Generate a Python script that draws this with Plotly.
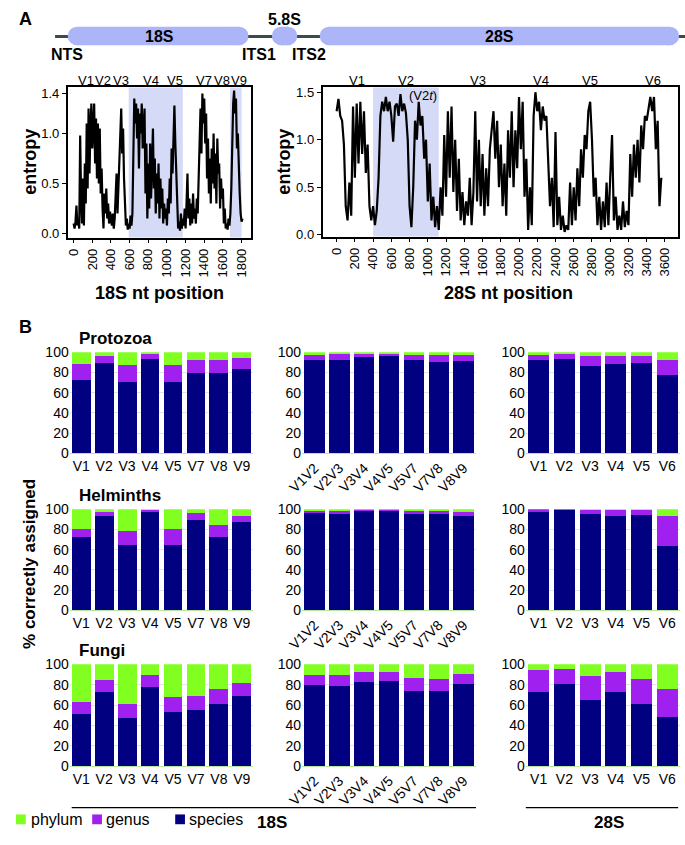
import plotly.graph_objects as go

W, H = 685, 845

# ---------------- DATA ----------------
# Entropy along 18S (every 10 nt, 0..1810)
pos_18s = list(range(0, 1820, 10))
entropy_18s = [
    0.10, 0.05, 0.12, 0.28, 0.08, 0.15, 0.05, 0.98, 0.35, 0.10,
    0.55, 0.08, 0.70, 0.30, 1.10, 0.45, 1.25, 0.60, 1.05, 1.30,
    0.85, 1.20, 1.30, 0.70, 1.15, 0.55, 1.10, 0.50, 1.05, 0.40,
    0.65, 0.25, 0.05, 0.40, 0.20, 0.45, 0.15, 0.30, 0.10, 0.22,
    0.12, 0.08, 0.20, 0.05, 0.15, 0.40, 0.60, 0.20, 0.45, 0.85,
    1.10, 1.25, 0.80, 1.05, 0.55, 0.35, 0.08, 0.15, 0.04, 0.10,
    0.05, 0.18, 0.08, 0.20, 0.90, 1.35, 1.10, 1.30, 0.95, 1.25,
    0.65, 1.20, 1.00, 1.30, 0.85, 1.15, 1.25, 0.40, 0.90, 0.15,
    0.70, 0.25, 0.90, 0.35, 0.80, 1.05, 0.45, 0.75, 0.20, 0.60,
    0.30, 0.70, 0.15, 0.55, 0.25, 0.45, 0.10, 0.30, 0.15, 0.25,
    0.08, 0.35, 0.20, 0.55, 0.30, 0.85, 0.60, 1.10, 1.28, 0.90,
    0.60, 0.30, 0.05, 0.12, 0.03, 0.20, 0.05, 0.15, 0.08, 0.25,
    0.05, 0.30, 0.60, 0.15, 0.35, 0.08, 0.30, 0.10, 0.40, 0.15,
    0.25, 0.10, 0.35, 0.20, 0.65, 0.95, 1.25, 0.80, 1.40, 1.10,
    1.35, 0.90, 1.20, 0.55, 0.95, 0.40, 0.75, 0.30, 0.85, 0.50,
    1.00, 0.45, 0.80, 0.30, 0.95, 0.60, 0.70, 0.25, 0.55, 0.35,
    0.45, 0.10, 0.25, 0.05, 0.10, 0.04, 0.15, 0.08, 0.20, 0.45,
    0.90, 1.30, 1.43, 1.20, 1.35, 0.85, 1.00, 0.55, 0.40, 0.20,
    0.12, 0.15,
]

# Entropy along 28S (every 20 nt, 0..3560)
pos_28s = list(range(0, 3580, 20))
entropy_28s = [
    1.30, 1.43, 1.25, 1.20, 0.95, 0.30, 0.15, 0.55, 0.20, 1.35,
    0.60, 1.38, 0.75, 1.40, 0.85, 1.30, 0.65, 0.95, 0.30, 0.15,
    0.30, 0.10, 0.25, 0.60, 1.25, 1.40, 1.30, 1.45, 1.30, 1.40,
    1.25, 0.98, 1.35, 1.38, 1.25, 1.48, 1.30, 1.38, 1.28, 1.00,
    0.30, 0.08, 0.50, 1.20, 1.00, 1.40, 1.15, 1.25, 0.80, 1.00,
    0.35, 0.75, 0.15, 0.40, 0.08, 0.30, 0.05, 0.50, 0.20, 1.05,
    0.40, 1.30, 0.60, 1.35, 0.45, 1.00, 0.25, 0.80, 0.15, 0.45,
    0.10, 0.35, 0.20, 0.60, 0.10, 0.45, 1.30, 0.35, 1.00, 0.30,
    0.85, 0.20, 0.70, 0.30, 0.90, 1.10, 1.30, 0.80, 1.20, 0.50,
    0.95, 0.30, 0.75, 0.20, 1.10, 0.60, 1.30, 0.50, 1.10, 0.70,
    1.45, 0.90, 1.40, 0.40, 0.80, 0.05, 0.50, 0.10, 1.25, 1.50,
    1.30, 1.40, 1.10, 1.35, 1.20, 1.25, 0.80, 0.30, 0.60, 0.08,
    1.08, 0.10, 0.40, 0.05, 0.20, 0.03, 0.10, 0.05, 0.55, 0.10,
    0.50, 0.15, 0.70, 0.30, 0.90, 0.60, 1.05, 0.90, 1.30, 1.40,
    1.00, 0.40, 0.60, 0.10, 0.40, 0.05, 0.35, 0.08, 0.55, 0.10,
    0.60, 1.05, 0.15, 0.40, 0.05, 0.20, 0.05, 0.35, 0.08, 0.25,
    0.10, 0.85, 0.40, 0.95, 0.60, 1.00, 0.55, 1.15, 0.90, 1.25,
    1.20, 1.35, 1.45, 1.30, 1.45, 0.90, 1.20, 0.30, 0.60,
]

shade_18s = [(590, 1170), (1675, 1800)]
shade_28s = [(400, 1120)]

vlabels_18s = ["V1", "V2", "V3", "V4", "V5", "V7", "V8", "V9"]
vlabel_x_18s = [72, 89, 107, 138, 163, 193, 211, 228]          # pixel centres
vlabels_28s = ["V1", "V2", "V3", "V4", "V5", "V6"]
vlabel_x_28s = [349, 399, 473, 538, 588, 652]

cats_single = ["V1", "V2", "V3", "V4", "V5", "V7", "V8", "V9"]
cats_pairs = ["V1V2", "V2V3", "V3V4", "V4V5", "V5V7", "V7V8", "V8V9"]
cats_28s = ["V1", "V2", "V3", "V4", "V5", "V6"]

# % correctly assigned, as stacked increments (species, +genus, +phylum)
protozoa_single_species = [73, 89, 70.5, 93, 71, 80, 79.5, 84]
protozoa_single_genus = [15, 7.5, 17, 5.4, 16, 12.5, 13, 10.5]
protozoa_single_phylum = [12, 3.5, 12.5, 1.6, 13, 7.5, 7.5, 5.5]
protozoa_pairs_species = [92, 92, 95, 96, 92, 90.5, 91]
protozoa_pairs_genus = [5, 6, 4, 3, 5, 6.5, 6.8]
protozoa_pairs_phylum = [3, 2, 1, 1, 3, 3, 2.2]
protozoa_28s_species = [92, 93.5, 86.5, 88, 89, 78]
protozoa_28s_genus = [5.8, 5.2, 9.7, 8.2, 7.2, 14.3]
protozoa_28s_phylum = [2.2, 1.3, 3.8, 3.8, 3.8, 7.7]

helminths_single_species = [72.5, 93, 65, 97, 65, 89, 72.3, 87]
helminths_single_genus = [8.5, 4.4, 13.4, 2.4, 15.6, 7.5, 11.9, 6.2]
helminths_single_phylum = [19, 2.6, 21.6, 0.6, 19.4, 3.5, 15.8, 6.8]
helminths_pairs_species = [96.5, 95.5, 98.7, 98.7, 95.5, 95.5, 93.2]
helminths_pairs_genus = [2.5, 3.5, 1.0, 1.0, 3.5, 3.5, 4.5]
helminths_pairs_phylum = [1, 1, 0.3, 0.3, 1, 1, 2.3]
helminths_28s_species = [97.7, 99.5, 95.2, 93.2, 94.5, 64.2]
helminths_28s_genus = [2.3, 0.5, 4.2, 6.2, 4.9, 29]
helminths_28s_phylum = [0, 0, 0.6, 0.6, 0.6, 6.8]

fungi_single_species = [51, 72.6, 47.4, 78, 53, 55.5, 61, 69.4]
fungi_single_genus = [12, 12.2, 13.6, 11.4, 15.4, 13.9, 14.8, 12.2]
fungi_single_phylum = [37, 15.2, 39, 10.6, 31.6, 30.6, 24.2, 18.4]
fungi_pairs_species = [79.7, 78.8, 83, 83.6, 74, 73.6, 80.4]
fungi_pairs_genus = [10.3, 10.6, 9, 9, 12.8, 12.2, 10.6]
fungi_pairs_phylum = [10, 10.6, 8, 7.4, 13.2, 14.2, 9]
fungi_28s_species = [73, 80.4, 65, 72.7, 61.4, 48.6]
fungi_28s_genus = [21.9, 15.1, 23.4, 19.6, 24.1, 27.3]
fungi_28s_phylum = [5.1, 4.5, 11.6, 7.7, 14.5, 24.1]

# ---------------- STYLE ----------------
FONT = "Liberation Sans"
C_SPECIES = "#000080"
C_GENUS = "#a020f0"
C_PHYLUM = "#80ff20"
C_SHADE = "#d5daf6"
C_PILL = "#abb5f7"
C_LINE = "#3b4a4a"


def fx(p):
    return p / W


def fy(p):
    return 1 - p / H


fig = go.Figure()

# ---------- entropy line plots ----------
fig.add_trace(go.Scatter(x=pos_18s, y=entropy_18s, mode="lines",
                         line=dict(color="black", width=2.2),
                         xaxis="x", yaxis="y", showlegend=False))
fig.add_trace(go.Scatter(x=pos_28s, y=entropy_28s, mode="lines",
                         line=dict(color="black", width=2.2),
                         xaxis="x2", yaxis="y2", showlegend=False))

layout = dict(
    width=W, height=H, autosize=False,
    margin=dict(l=0, r=0, t=0, b=0, pad=0),
    paper_bgcolor="white", plot_bgcolor="white",
    font=dict(family=FONT, color="black", size=13),
    barmode="stack", bargap=0.18,
    showlegend=False,
)

ent_axis_common = dict(showline=True, linecolor="black", linewidth=1.8, mirror=True,
                       ticks="outside", ticklen=4, tickwidth=1, tickcolor="black",
                       showgrid=False, zeroline=False, tickfont=dict(size=13))

layout["xaxis"] = dict(domain=[fx(53), fx(241)], range=[-63, 1905],
                       tickvals=list(range(0, 2000, 200)), tickangle=-90,
                       anchor="y", **ent_axis_common)
layout["yaxis"] = dict(domain=[fy(234), fy(81)], range=[-0.04, 1.46],
                       tickvals=[0, 0.5, 1.0, 1.4], ticktext=["0.0", "0.5", "1.0", "1.4"],
                       anchor="x", **ent_axis_common)
layout["xaxis2"] = dict(domain=[fx(314), fx(678)], range=[-153, 3745],
                        tickvals=list(range(0, 3800, 200)), tickangle=-90,
                        anchor="y2", **ent_axis_common)
layout["yaxis2"] = dict(domain=[fy(233), fy(81)], range=[-0.02, 1.55],
                        tickvals=[0, 0.5, 1.0, 1.5], ticktext=["0.0", "0.5", "1.0", "1.5"],
                        anchor="x2", **ent_axis_common)

shapes = []
for a, b in shade_18s:
    shapes.append(dict(type="rect", xref="x", yref="y domain", x0=a, x1=b, y0=0, y1=1,
                       fillcolor=C_SHADE, line=dict(width=0), layer="below"))
for a, b in shade_28s:
    shapes.append(dict(type="rect", xref="x2", yref="y2 domain", x0=a, x1=b, y0=0, y1=1,
                       fillcolor=C_SHADE, line=dict(width=0), layer="below"))

# ---------- bar charts ----------
groups = [
    ("Protozoa", [
        (cats_single, protozoa_single_species, protozoa_single_genus, protozoa_single_phylum),
        (cats_pairs, protozoa_pairs_species, protozoa_pairs_genus, protozoa_pairs_phylum),
        (cats_28s, protozoa_28s_species, protozoa_28s_genus, protozoa_28s_phylum)]),
    ("Helminths", [
        (cats_single, helminths_single_species, helminths_single_genus, helminths_single_phylum),
        (cats_pairs, helminths_pairs_species, helminths_pairs_genus, helminths_pairs_phylum),
        (cats_28s, helminths_28s_species, helminths_28s_genus, helminths_28s_phylum)]),
    ("Fungi", [
        (cats_single, fungi_single_species, fungi_single_genus, fungi_single_phylum),
        (cats_pairs, fungi_pairs_species, fungi_pairs_genus, fungi_pairs_phylum),
        (cats_28s, fungi_28s_species, fungi_28s_genus, fungi_28s_phylum)]),
]
row_y = [(351, 454), (511, 614), (669, 773)]       # pixel top(100) / bottom(0)
col_x = [(55, 243), (293, 471), (522, 680)]
col_angle = [0, -45, 0]
title_y = [337, 497, 655]

annotations = []
ax_i = 3
for r, (gname, panels) in enumerate(groups):
    top, bot = row_y[r]
    for c, (cats, sp, ge, ph) in enumerate(panels):
        xa, ya = f"x{ax_i}", f"y{ax_i}"
        for vals, col in ((sp, C_SPECIES), (ge, C_GENUS), (ph, C_PHYLUM)):
            fig.add_trace(go.Bar(x=cats, y=vals, marker=dict(color=col, line=dict(width=0)),
                                 xaxis=xa, yaxis=ya, showlegend=False))
        layout[f"xaxis{ax_i}"] = dict(domain=[fx(col_x[c][0]), fx(col_x[c][1])],
                                      anchor=ya, type="category", tickangle=col_angle[c],
                                      showline=True, linecolor="#b9e8a0", linewidth=1,
                                      ticks="", showgrid=False, tickfont=dict(size=14))
        layout[f"yaxis{ax_i}"] = dict(domain=[fy(bot), fy(top)], anchor=xa,
                                      range=[0, 100], tickvals=[0, 20, 40, 60, 80, 100],
                                      showgrid=True, gridcolor="#dfe3ea", gridwidth=1,
                                      zeroline=False, showline=False, ticks="",
                                      tickfont=dict(size=14))
        ax_i += 1
    annotations.append(dict(text=f"<b>{gname}</b>", x=fx(62), y=fy(title_y[r]),
                            xref="paper", yref="paper", xanchor="left", yanchor="middle",
                            showarrow=False, font=dict(size=17)))


def note(text, x, y, size=13, xanchor="center", angle=0, bold=False):
    t = f"<b>{text}</b>" if bold else text
    annotations.append(dict(text=t, x=fx(x), y=fy(y), xref="paper", yref="paper",
                            xanchor=xanchor, yanchor="middle", showarrow=False,
                            textangle=angle, font=dict(size=size)))


# panel letters
note("A", 1, 11, size=18, xanchor="left", bold=True)
note("B", 1, 325, size=18, xanchor="left", bold=True)

# schematic
shapes.append(dict(type="line", xref="paper", yref="paper", x0=fx(40), x1=fx(685),
                   y0=fy(29), y1=fy(29), line=dict(color=C_LINE, width=3), layer="above"))
pills = [("18S", 53, 238), ("5.8S", 262, 288), ("28S", 311, 679)]
py0, py1 = 19, 38
rad = (py1 - py0) / 2
for name, a, b in pills:
    shapes.append(dict(type="rect", xref="paper", yref="paper", x0=fx(a + rad), x1=fx(b - rad),
                       y0=fy(py1), y1=fy(py0), fillcolor=C_PILL, line=dict(width=0), layer="above"))
    for cx in (a + rad, b - rad):
        shapes.append(dict(type="circle", xref="paper", yref="paper", x0=fx(cx - rad), x1=fx(cx + rad),
                           y0=fy(py1), y1=fy(py0), fillcolor=C_PILL, line=dict(width=0), layer="above"))
note("18S", 147, 29, size=16, bold=True)
note("28S", 495, 29, size=16, bold=True)
note("5.8S", 275, 12, size=16, bold=True)
note("NTS", 52, 47, size=16, bold=True)
note("ITS1", 249, 47, size=16, bold=True)
note("ITS2", 300, 47, size=16, bold=True)

# entropy labels
for lab, x in zip(vlabels_18s, vlabel_x_18s):
    note(lab, x, 74, size=13)
for lab, x in zip(vlabels_28s, vlabel_x_28s):
    note(lab, x, 74, size=13)
note("(V2<i>t</i>)", 417, 89, size=13)
note("entropy", 14, 157, size=18, angle=-90, bold=True)
note("entropy", 274, 157, size=18, angle=-90, bold=True)
note("18S nt position", 147, 290, size=18, bold=True)
note("28S nt position", 504, 290, size=18, bold=True)

# bar chart labels
note("% correctly assigned", 14, 567, size=17, angle=-90, bold=True)
shapes.append(dict(type="line", xref="paper", yref="paper", x0=fx(57), x1=fx(471),
                   y0=fy(815), y1=fy(815), line=dict(color="black", width=1.2)))
shapes.append(dict(type="line", xref="paper", yref="paper", x0=fx(522), x1=fx(678),
                   y0=fy(815), y1=fy(815), line=dict(color="black", width=1.2)))
note("18S", 262, 830, size=17, bold=True)
note("28S", 607, 830, size=17, bold=True)

# legend (swatches + labels)
legend_items = [("phylum", C_PHYLUM, 0, 13), ("genus", C_GENUS, 78, 90), ("species", C_SPECIES, 163, 175)]
for lab, col, sx, tx in legend_items:
    shapes.append(dict(type="rect", xref="paper", yref="paper", x0=fx(sx), x1=fx(sx + 10),
                       y0=fy(832), y1=fy(822), fillcolor=col, line=dict(width=0)))
    note(lab, tx, 827, size=16, xanchor="left")

layout["shapes"] = shapes
layout["annotations"] = annotations
fig.update_layout(**layout)

css_js = (
    "var s=document.createElement('style');"
    "s.innerHTML='html,body{margin:0!important;padding:0!important;overflow:hidden!important;"
    "width:685px;height:845px;} .plotly-graph-div,.svg-container{display:block!important;}';"
    "document.head.appendChild(s);"
)
fig.write_html("out.html", config={"displayModeBar": False}, post_script=css_js)
